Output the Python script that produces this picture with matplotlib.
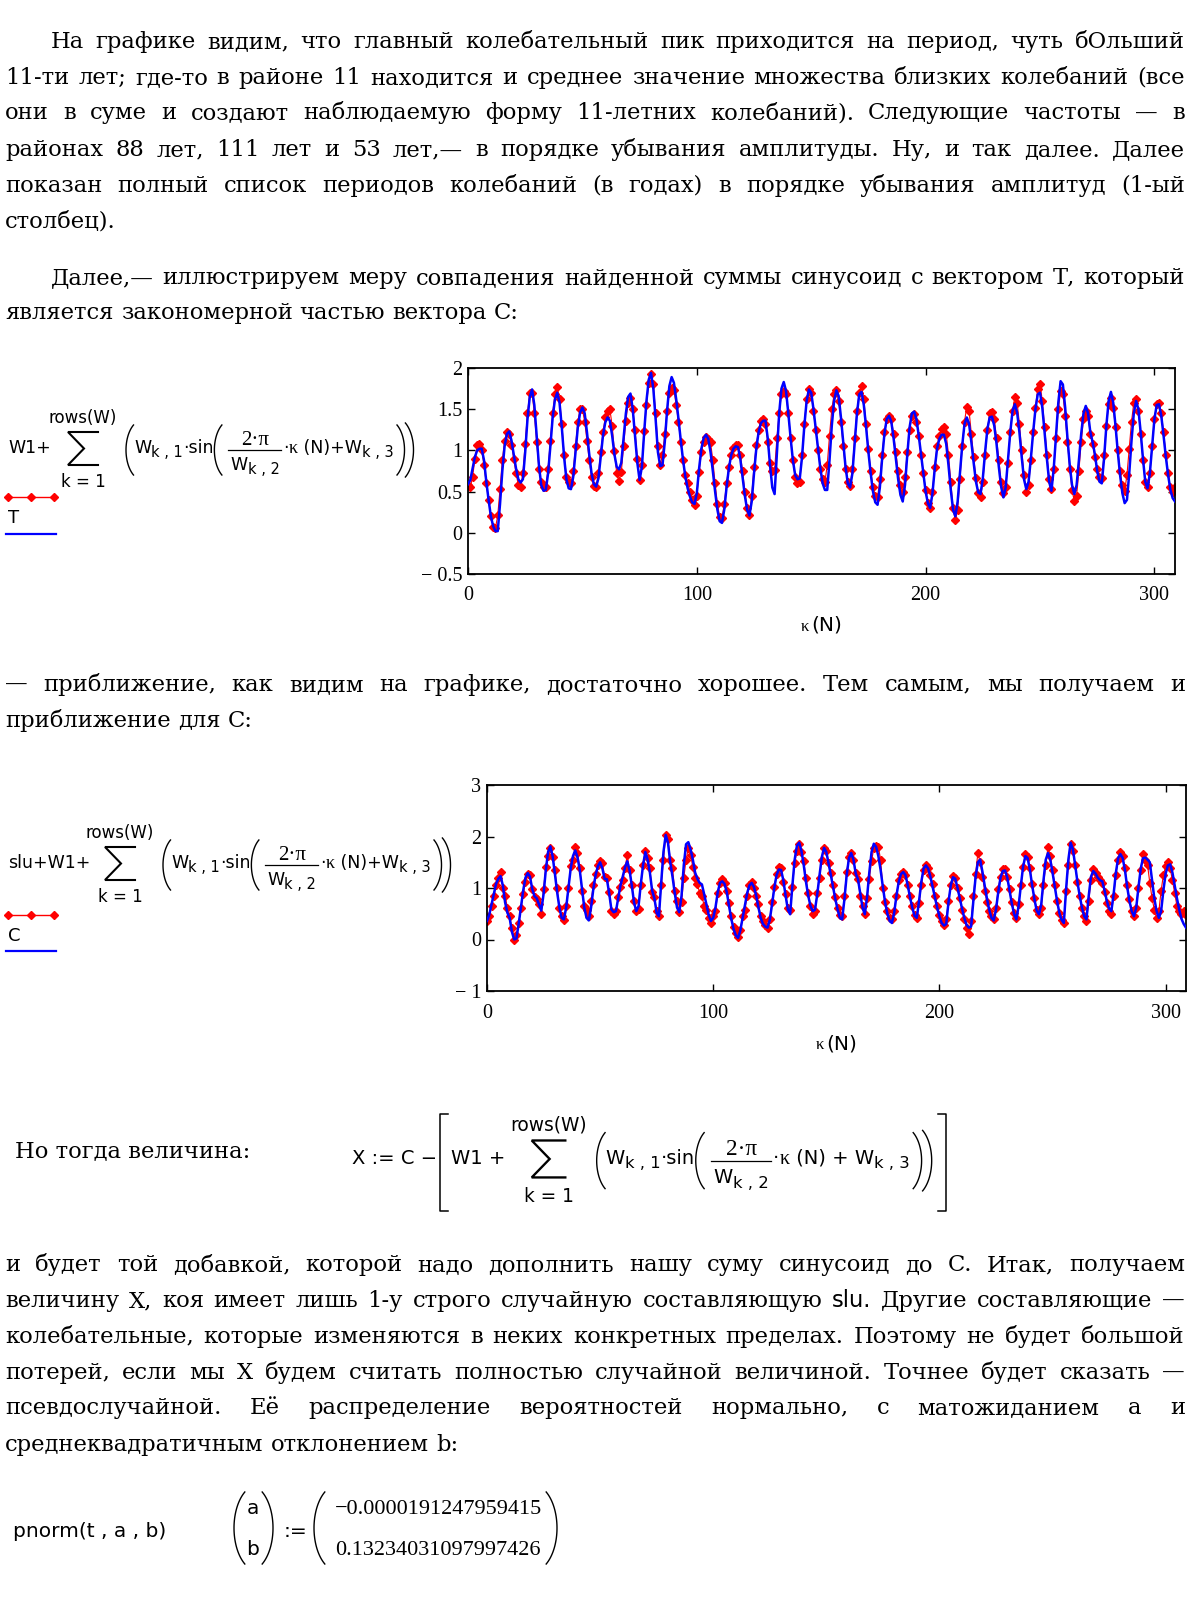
import numpy as np
import matplotlib
matplotlib.use("Agg")
import matplotlib.pyplot as plt
from matplotlib.lines import Line2D

# ── data: chart 1 (T and the sum of sinusoids) ──
T_red = [
    0.58, 0.55, 0.68, 0.89, 1.06, 1.08, 1.00, 0.82, 0.60, 0.40,
    0.20, 0.07, 0.06, 0.21, 0.53, 0.88, 1.12, 1.22, 1.20, 1.07,
    0.90, 0.72, 0.58, 0.56, 0.72, 1.08, 1.45, 1.70, 1.70, 1.45,
    1.10, 0.78, 0.62, 0.56, 0.56, 0.78, 1.12, 1.45, 1.68, 1.77,
    1.62, 1.32, 0.95, 0.68, 0.62, 0.60, 0.75, 1.05, 1.35, 1.50,
    1.50, 1.35, 1.12, 0.88, 0.68, 0.57, 0.56, 0.72, 0.98, 1.22,
    1.40, 1.48, 1.50, 1.30, 0.99, 0.72, 0.63, 0.74, 1.05, 1.36,
    1.58, 1.63, 1.50, 1.25, 0.90, 0.64, 0.82, 1.23, 1.55, 1.82,
    1.93, 1.80, 1.45, 1.05, 0.82, 0.95, 1.20, 1.48, 1.70, 1.76,
    1.73, 1.55, 1.34, 1.10, 0.88, 0.70, 0.60, 0.50, 0.40, 0.34,
    0.45, 0.74, 0.98, 1.10, 1.16, 1.14, 1.10, 0.88, 0.60, 0.35,
    0.19, 0.18, 0.35, 0.60, 0.80, 0.95, 1.03, 1.06, 1.07, 0.95,
    0.75, 0.50, 0.30, 0.22, 0.45, 0.80, 1.06, 1.25, 1.36, 1.38,
    1.32, 1.10, 0.85, 0.75, 0.76, 1.15, 1.45, 1.68, 1.72, 1.68,
    1.45, 1.15, 0.88, 0.68, 0.61, 0.62, 0.95, 1.32, 1.62, 1.74,
    1.70, 1.48, 1.25, 1.00, 0.78, 0.65, 0.62, 0.82, 1.18, 1.50,
    1.68, 1.73, 1.60, 1.35, 1.05, 0.78, 0.62, 0.57, 0.78, 1.15,
    1.48, 1.70, 1.78, 1.62, 1.32, 1.02, 0.75, 0.55, 0.45, 0.43,
    0.65, 0.95, 1.22, 1.38, 1.42, 1.38, 1.20, 0.98, 0.75, 0.58,
    0.50, 0.68, 0.98, 1.25, 1.42, 1.44, 1.35, 1.18, 0.95, 0.72,
    0.52, 0.36, 0.30, 0.50, 0.80, 1.05, 1.18, 1.26, 1.28, 1.20,
    0.95, 0.62, 0.30, 0.15, 0.28, 0.65, 1.05, 1.35, 1.53, 1.48,
    1.20, 0.92, 0.66, 0.48, 0.43, 0.62, 0.95, 1.25, 1.45, 1.47,
    1.38, 1.15, 0.88, 0.62, 0.48, 0.55, 0.85, 1.22, 1.48, 1.65,
    1.58, 1.32, 1.00, 0.70, 0.50, 0.58, 0.88, 1.22, 1.52, 1.75,
    1.81, 1.60, 1.28, 0.95, 0.65, 0.53, 0.78, 1.15, 1.50, 1.72,
    1.68, 1.42, 1.10, 0.78, 0.52, 0.38, 0.45, 0.75, 1.10, 1.38,
    1.48, 1.42, 1.20, 1.08, 0.92, 0.78, 0.68, 0.67, 0.95, 1.30,
    1.56, 1.64, 1.52, 1.28, 1.00, 0.75, 0.58, 0.51, 0.70, 1.02,
    1.35, 1.58, 1.62, 1.48, 1.20, 0.88, 0.62, 0.55, 0.72, 1.05,
    1.38, 1.56, 1.58, 1.45, 1.22, 0.95, 0.72, 0.55, 0.50, 0.55,
]
T_fit = [
    0.59, 0.64, 0.78, 0.92, 1.00, 1.02, 1.02, 0.88, 0.62, 0.40,
    0.20, 0.08, 0.02, 0.02, 0.35, 0.75, 1.05, 1.20, 1.23, 1.12,
    0.95, 0.78, 0.65, 0.61, 0.65, 0.98, 1.38, 1.65, 1.74, 1.55,
    1.18, 0.82, 0.58, 0.51, 0.52, 0.72, 1.05, 1.40, 1.62, 1.70,
    1.58, 1.28, 0.92, 0.65, 0.54, 0.53, 0.68, 0.98, 1.28, 1.46,
    1.52, 1.45, 1.22, 0.95, 0.72, 0.59, 0.56, 0.66, 0.92, 1.18,
    1.34, 1.40, 1.36, 1.18, 0.95, 0.80, 0.77, 0.85, 1.15, 1.45,
    1.65, 1.69, 1.50, 1.18, 0.85, 0.64, 0.80, 1.22, 1.60, 1.86,
    1.94, 1.75, 1.38, 0.98, 0.81, 0.82, 1.10, 1.48, 1.78, 1.89,
    1.82, 1.62, 1.38, 1.12, 0.88, 0.68, 0.54, 0.44, 0.37, 0.35,
    0.48, 0.78, 1.02, 1.15, 1.19, 1.14, 0.98, 0.75, 0.50, 0.28,
    0.14, 0.12, 0.28, 0.55, 0.78, 0.94, 1.02, 1.05, 1.04, 0.90,
    0.68, 0.45, 0.28, 0.21, 0.38, 0.72, 1.02, 1.22, 1.33, 1.36,
    1.36, 1.15, 0.82, 0.55, 0.47, 0.95, 1.45, 1.75, 1.83, 1.72,
    1.45, 1.15, 0.88, 0.70, 0.65, 0.66, 0.92, 1.30, 1.60, 1.74,
    1.70, 1.50, 1.26, 1.02, 0.78, 0.60, 0.52, 0.52, 0.88, 1.30,
    1.60, 1.73, 1.66, 1.40, 1.10, 0.80, 0.60, 0.55, 0.72, 1.08,
    1.45, 1.68, 1.71, 1.55, 1.28, 0.98, 0.72, 0.50, 0.37, 0.34,
    0.55, 0.90, 1.20, 1.38, 1.42, 1.35, 1.15, 0.90, 0.65, 0.46,
    0.38, 0.58, 0.95, 1.28, 1.45, 1.47, 1.38, 1.18, 0.95, 0.72,
    0.50, 0.36, 0.30, 0.48, 0.78, 1.02, 1.14, 1.19, 1.19, 1.08,
    0.82, 0.52, 0.28, 0.20, 0.38, 0.72, 1.06, 1.32, 1.40, 1.32,
    1.10, 0.85, 0.62, 0.49, 0.47, 0.66, 0.98, 1.26, 1.40, 1.41,
    1.30, 1.08, 0.80, 0.56, 0.43, 0.55, 0.88, 1.22, 1.48, 1.56,
    1.46, 1.22, 0.92, 0.65, 0.53, 0.62, 0.90, 1.22, 1.50, 1.68,
    1.70, 1.52, 1.22, 0.90, 0.62, 0.51, 0.78, 1.18, 1.58, 1.84,
    1.80, 1.52, 1.15, 0.82, 0.58, 0.47, 0.58, 0.88, 1.20, 1.45,
    1.54, 1.45, 1.22, 1.10, 0.95, 0.75, 0.62, 0.60, 0.90, 1.30,
    1.60, 1.71, 1.58, 1.30, 0.98, 0.70, 0.48, 0.36, 0.40, 0.72,
    1.12, 1.45, 1.60, 1.50, 1.22, 0.90, 0.62, 0.54, 0.72, 1.05,
    1.38, 1.55, 1.56, 1.42, 1.18, 0.92, 0.70, 0.52, 0.42, 0.38,
]

# ── data: chart 2 (C and slu + sum of sinusoids) ──
C_red = [
    0.36, 0.45, 0.65, 0.85, 1.05, 1.20, 1.31, 1.00, 0.85, 0.62,
    0.45, 0.22, 0.00, 0.08, 0.32, 0.62, 0.88, 1.12, 1.27, 1.25,
    0.98, 0.82, 0.78, 0.68, 0.50, 0.98, 1.40, 1.62, 1.78, 1.60,
    1.35, 1.00, 0.62, 0.45, 0.38, 0.65, 1.00, 1.42, 1.55, 1.80,
    1.68, 1.38, 0.95, 0.65, 0.58, 0.45, 0.75, 1.05, 1.27, 1.45,
    1.53, 1.48, 1.22, 1.20, 0.92, 0.55, 0.50, 0.55, 0.82, 1.02,
    1.15, 1.38, 1.64, 1.35, 1.05, 0.75, 0.55, 0.60, 1.05, 1.45,
    1.72, 1.58, 1.38, 0.92, 0.82, 0.55, 0.45, 1.05, 1.55, 2.02,
    1.95, 1.55, 1.38, 0.95, 0.75, 0.53, 0.72, 1.20, 1.55, 1.77,
    1.65, 1.40, 1.20, 1.08, 0.90, 0.85, 0.65, 0.58, 0.42, 0.33,
    0.45, 0.55, 0.90, 1.10, 1.18, 1.10, 0.95, 0.70, 0.45, 0.25,
    0.12, 0.05, 0.18, 0.45, 0.58, 0.85, 1.05, 1.12, 1.00, 0.85,
    0.68, 0.45, 0.35, 0.28, 0.23, 0.40, 0.72, 1.02, 1.28, 1.40,
    1.38, 1.12, 0.88, 0.62, 0.58, 1.02, 1.48, 1.72, 1.85, 1.70,
    1.52, 1.20, 0.90, 0.65, 0.50, 0.55, 0.90, 1.20, 1.55, 1.78,
    1.72, 1.48, 1.30, 1.05, 0.82, 0.62, 0.47, 0.45, 0.85, 1.32,
    1.60, 1.68, 1.55, 1.30, 1.17, 0.85, 0.65, 0.49, 0.80, 1.18,
    1.52, 1.78, 1.82, 1.80, 1.55, 1.00, 0.72, 0.55, 0.42, 0.40,
    0.55, 0.85, 1.15, 1.28, 1.32, 1.25, 1.05, 0.85, 0.65, 0.48,
    0.42, 0.70, 1.05, 1.35, 1.44, 1.38, 1.25, 1.08, 0.85, 0.65,
    0.48, 0.35, 0.28, 0.40, 0.75, 1.05, 1.23, 1.20, 1.00, 0.80,
    0.58, 0.40, 0.22, 0.10, 0.35, 0.85, 1.28, 1.68, 1.50, 1.22,
    0.95, 0.72, 0.55, 0.45, 0.40, 0.62, 0.98, 1.22, 1.36, 1.36,
    1.22, 0.98, 0.72, 0.52, 0.42, 0.68, 1.05, 1.40, 1.66, 1.60,
    1.38, 1.08, 0.80, 0.58, 0.49, 0.62, 1.05, 1.45, 1.80, 1.62,
    1.35, 1.05, 0.75, 0.52, 0.38, 0.32, 0.95, 1.45, 1.85, 1.72,
    1.45, 1.12, 0.85, 0.62, 0.45, 0.35, 0.75, 1.15, 1.36, 1.30,
    1.22, 1.15, 1.10, 0.92, 0.70, 0.55, 0.50, 0.85, 1.25, 1.55,
    1.70, 1.62, 1.38, 1.05, 0.78, 0.55, 0.45, 0.62, 1.00, 1.35,
    1.66, 1.55, 1.45, 1.10, 0.80, 0.58, 0.42, 0.55, 0.95, 1.25,
    1.42, 1.50, 1.38, 1.15, 0.90, 0.65, 0.55, 0.50, 0.55, 0.48,
]
C_fit = [
    0.36, 0.48, 0.68, 0.88, 1.08, 1.18, 1.23, 1.05, 0.72, 0.52,
    0.42, 0.15, 0.00, 0.02, 0.30, 0.62, 0.95, 1.20, 1.29, 1.22,
    0.98, 0.84, 0.80, 0.68, 0.56, 0.88, 1.35, 1.70, 1.81, 1.62,
    1.28, 0.92, 0.62, 0.42, 0.39, 0.62, 1.00, 1.38, 1.62, 1.73,
    1.60, 1.35, 0.98, 0.62, 0.42, 0.37, 0.62, 0.98, 1.25, 1.42,
    1.50, 1.38, 1.18, 1.17, 0.90, 0.58, 0.53, 0.55, 0.80, 1.05,
    1.22, 1.40, 1.52, 1.35, 1.05, 0.72, 0.55, 0.65, 1.08, 1.45,
    1.70, 1.55, 1.30, 0.95, 0.80, 0.52, 0.45, 1.10, 1.70, 2.03,
    1.88, 1.50, 1.22, 0.90, 0.62, 0.53, 0.85, 1.45, 1.85, 1.89,
    1.75, 1.55, 1.30, 1.18, 1.10, 1.07, 0.88, 0.68, 0.48, 0.36,
    0.42, 0.62, 0.92, 1.10, 1.13, 1.08, 0.92, 0.65, 0.40, 0.20,
    0.08, 0.03, 0.18, 0.42, 0.65, 0.90, 1.05, 1.10, 1.02, 0.85,
    0.62, 0.42, 0.30, 0.25, 0.23, 0.38, 0.68, 1.00, 1.25, 1.36,
    1.35, 1.15, 0.85, 0.58, 0.49, 1.05, 1.55, 1.82, 1.88, 1.72,
    1.45, 1.12, 0.85, 0.65, 0.55, 0.58, 0.88, 1.25, 1.60, 1.78,
    1.70, 1.48, 1.25, 1.02, 0.78, 0.58, 0.42, 0.39, 0.78, 1.25,
    1.58, 1.68, 1.55, 1.28, 1.17, 0.90, 0.62, 0.49, 0.82, 1.30,
    1.70, 1.86, 1.80, 1.62, 1.35, 1.02, 0.72, 0.50, 0.36, 0.32,
    0.52, 0.85, 1.12, 1.27, 1.31, 1.25, 1.05, 0.82, 0.62, 0.46,
    0.42, 0.75, 1.12, 1.38, 1.44, 1.38, 1.22, 1.02, 0.82, 0.62,
    0.45, 0.32, 0.27, 0.30, 0.72, 1.05, 1.21, 1.18, 1.00, 0.80,
    0.60, 0.42, 0.28, 0.23, 0.25, 0.75, 1.22, 1.50, 1.55, 1.32,
    1.05, 0.80, 0.58, 0.42, 0.37, 0.58, 0.92, 1.20, 1.33, 1.34,
    1.20, 0.95, 0.70, 0.50, 0.39, 0.65, 1.05, 1.42, 1.62, 1.58,
    1.35, 1.05, 0.78, 0.56, 0.49, 0.68, 1.15, 1.55, 1.68, 1.55,
    1.30, 1.02, 0.75, 0.52, 0.38, 0.32, 0.98, 1.55, 1.88, 1.75,
    1.45, 1.12, 0.85, 0.62, 0.45, 0.39, 0.85, 1.22, 1.33, 1.28,
    1.20, 1.15, 1.13, 0.95, 0.75, 0.60, 0.55, 0.88, 1.30, 1.58,
    1.66, 1.58, 1.35, 1.02, 0.75, 0.55, 0.45, 0.62, 1.02, 1.38,
    1.58, 1.59, 1.55, 1.50, 1.15, 0.80, 0.55, 0.42, 0.55, 0.95,
    1.28, 1.44, 1.46, 1.30, 1.05, 0.80, 0.58, 0.40, 0.30, 0.23,
]

x_ticks = [0, 100, 200, 300]
y1_ticks = [-0.5, 0, 0.5, 1, 1.5, 2]
y1_labels = ["\u2212 0.5", "0", "0.5", "1", "1.5", "2"]
y2_ticks = [-1, 0, 1, 2, 3]
y2_labels = ["\u2212 1", "0", "1", "2", "3"]

a_val = "\u22120.0000191247959415"
b_val = "0.13234031097997426"

# ── text of the page (line breaks as in the source) ──
LINES = [
    (41.8, "На графике видим, что главный колебательный пик приходится на период, чуть бОльший", 51, True),
    (77.6, "11-ти лет; где-то в районе 11 находится и среднее значение множества близких колебаний (все", 5, True),
    (113.3, "они в суме и создают наблюдаемую форму 11-летних колебаний). Следующие частоты — в", 5, True),
    (150.0, "районах 88 лет, 111 лет и 53 лет,— в порядке убывания амплитуды. Ну, и так далее. Далее", 5, True),
    (185.7, "показан полный список периодов колебаний (в годах) в порядке убывания амплитуд (1-ый", 5, True),
    (221.4, "столбец).", 5, False),
    (277.6, "Далее,— иллюстрируем меру совпадения найденной суммы синусоид с вектором Т, который", 51, True),
    (313.3, "является закономерной частью вектора С:", 5, False),
    (684.7, "— приближение, как видим на графике, достаточно хорошее. Тем самым, мы получаем и", 5, True),
    (720.4, "приближение для С:", 5, False),
    (1265.3, "и будет той добавкой, которой надо дополнить нашу суму синусоид до С. Итак, получаем", 5, True),
    (1301.0, "величину X, коя имеет лишь 1-у строго случайную составляющую slu. Другие составляющие —", 5, True),
    (1336.7, "колебательные, которые изменяются в неких конкретных пределах. Поэтому не будет большой", 5, True),
    (1372.4, "потерей, если мы X будем считать полностью случайной величиной. Точнее будет сказать —", 5, True),
    (1408.2, "псевдослучайной. Её распределение вероятностей нормально, с матожиданием a и", 5, True),
    (1444.9, "среднеквадратичным отклонением b:", 5, False),
]

W, H = 1200, 1600
BODY = "DejaVu Serif"
SANS = "DejaVu Sans"
NUM = "Liberation Serif"

fig = plt.figure(figsize=(12, 16), dpi=100, facecolor="white")
renderer = fig.canvas.get_renderer()


def fx(x):
    return x / W


def fy(y):
    return 1 - y / H


def txt(x, y, s, size, family=SANS, ha="left", va="baseline", **kw):
    return fig.text(fx(x), fy(y), s, fontsize=size, family=family, ha=ha, va=va, **kw)


def measure(s, size, family):
    t = fig.text(0, 0, s, fontsize=size, family=family)
    w = t.get_window_extent(renderer).width
    t.remove()
    return w


def put(x, y, s, size, family=SANS):
    t = txt(x, y, s, size, family)
    return x + t.get_window_extent(renderer).width


def line(xs, ys, **kw):
    kw.setdefault("color", "black")
    kw.setdefault("lw", 1.0)
    fig.add_artist(Line2D([fx(v) for v in xs], [fy(v) for v in ys],
                          transform=fig.transFigure, **kw))


def paren(x, top, bot, side="(", lw=1.0):
    h = bot - top
    th = np.radians(56)
    b = (h / 2) / np.sin(th)
    d = 0.15 * h
    a = d / (1 - np.cos(th))
    cy = (top + bot) / 2
    t = np.linspace(-th, th, 40)
    if side == "(":
        px = x + a - a * np.cos(t)
    else:
        px = x - a + a * np.cos(t)
    line(px, cy + b * np.sin(t), lw=lw)


# ── body text, justified ──
body_size = 20 * 514 / measure("является закономерной частью вектора С:", 20, BODY)


def text_line(yc, s, x0, just, x1=1185):
    words = s.split()
    fams = [SANS if w.startswith("slu") else BODY for w in words]
    size = body_size
    sp = measure("a a", size, BODY) - measure("aa", size, BODY)
    ws = [measure(w, size, f) for w, f in zip(words, fams)]
    if just and len(words) > 1:
        gap = (x1 - x0 - sum(ws)) / (len(words) - 1)
        if gap < 0.7 * sp:
            k = (x1 - x0) / (sum(ws) + 0.7 * sp * (len(words) - 1))
            size *= k
            ws = [measure(w, size, f) for w, f in zip(words, fams)]
            gap = (x1 - x0 - sum(ws)) / (len(words) - 1)
    else:
        gap = sp
    base = yc + 0.27 * size * 100 / 72
    x = x0
    for w, f, wi in zip(words, fams, ws):
        txt(x, base, w, size, f)
        x += wi + gap


for yc, s, x0, just in LINES:
    text_line(yc, s, x0, just)

txt(15, 1151 + 0.27 * body_size * 100 / 72, "Но тогда величина:", body_size, BODY)


# ── formulas ──
def sigma(cx, top, bot, s=1.0):
    w = 15 * s
    line([cx + w, cx - w, cx + 1 * s, cx - w, cx + w],
         [top, top, (top + bot) / 2, bot, bot], lw=1.5 * s, solid_joinstyle="miter")


def sum_block(x, y, s=1.0, plus="+"):
    fs = 12.5 * s
    sub = 10.5 * s
    cx = x + 21 * s
    txt(cx, y - 30 * s, "rows(W)", 12 * s, ha="center")
    sigma(cx, y - 21 * s, y + 12 * s, s)
    txt(cx, y + 34 * s, "k = 1", 12 * s, ha="center")
    xp = x + 64 * s
    paren(xp, y - 28 * s, y + 22 * s, "(")
    cur = xp + 8 * s
    cur = put(cur, y, "W", fs)
    cur = put(cur, y + 4 * s, "k , 1", sub)
    cur = put(cur, y, "·sin", fs)
    paren(cur + 1 * s, y - 28 * s, y + 22 * s, "(")
    cur += 15 * s
    nw = measure("2·π", 15 * s, NUM)
    dw = measure("W", fs, SANS) + measure("k , 2", sub, SANS)
    fw = max(nw, dw) + 4 * s
    txt(cur + fw / 2, y - 8 * s, "2·π", 15 * s, NUM, ha="center")
    line([cur, cur + fw], [y - 3 * s, y - 3 * s], lw=0.9)
    dx = cur + (fw - dw) / 2
    dx = put(dx, y + 17 * s, "W", fs)
    put(dx, y + 21 * s, "k , 2", sub)
    cur += fw + 2 * s
    cur = put(cur, y, "·", fs)
    cur = put(cur, y, "κ", 13 * s, NUM)
    cur = put(cur, y, " (N)" + plus + "W", fs)
    cur = put(cur, y + 4 * s, "k , 3", sub)
    cur += 2 * s
    paren(cur + 9 * s, y - 28 * s, y + 22 * s, ")")
    paren(cur + 18 * s, y - 30 * s, y + 24 * s, ")")
    return cur + 18 * s


# formula for T
txt(8, 453, "W1+", 12.5)
sum_block(62, 453)
line([8, 31, 54], [497, 497, 497], color="red", lw=1.0, marker="D", ms=4,
     mfc="red", mec="red")
txt(8, 523, "T", 13)
line([6, 56], [534, 534], color="blue", lw=1.6)

# formula for C
txt(8, 868, "slu+W1+", 12.5)
sum_block(99, 868)
line([8, 31, 54], [915, 915, 915], color="red", lw=1.0, marker="D", ms=4,
     mfc="red", mec="red")
txt(8, 941, "C", 13)
line([6, 56], [951, 951], color="blue", lw=1.6)

# X := C - [ ... ]
s = 1.12
txt(352, 1164, "X := C \u2212", 14)
line([448, 440, 440, 448], [1114, 1114, 1211, 1211], lw=1.1)
txt(451, 1164, "W1 +", 14)
sum_block(525, 1164, s, plus=" + ")
line([938, 946, 946, 938], [1114, 1114, 1211, 1211], lw=1.1)

# pnorm line
txt(13, 1537, "pnorm(t , a , b)", 14.5)
paren(234, 1492, 1564, "(")
paren(273, 1492, 1564, ")")
txt(253, 1514, "a", 14.5, ha="center")
txt(253, 1555, "b", 14.5, ha="center")
txt(284, 1537, ":=", 14.5)
paren(314, 1492, 1564, "(")
paren(557, 1492, 1564, ")")
txt(438, 1514, a_val, 16, NUM, ha="center")
txt(438, 1555, b_val, 16, NUM, ha="center")


# ── charts ──
def chart(rect, red, fit, ylim, yt, ylab, label_xy):
    ax = fig.add_axes(rect)
    n = np.arange(len(red))
    ax.plot(n, red, color="red", lw=0.8, marker="D", ms=3.6, mfc="red", mec="red", zorder=2)
    ax.plot(np.arange(len(fit)), fit, color="blue", lw=1.8, zorder=3)
    ax.set_xlim(0, 309)
    ax.set_ylim(*ylim)
    ax.set_xticks(x_ticks)
    ax.set_xticklabels([str(v) for v in x_ticks])
    ax.set_yticks(yt)
    ax.set_yticklabels(ylab)
    ax.tick_params(direction="in", top=True, right=True, length=5, width=1.0,
                   labelsize=14.5, colors="black")
    ax.tick_params(axis="x", pad=9)
    ax.tick_params(axis="y", pad=4)
    for lab in ax.get_xticklabels() + ax.get_yticklabels():
        lab.set_family(NUM)
    for sp in ax.spines.values():
        sp.set_linewidth(1.3)
    lx, ly = label_xy
    k_end = put(lx, ly, "κ", 12, NUM)
    put(k_end + 2, ly, "(N)", 14.5)
    return ax


chart([fx(468), fy(574), (1175 - 468) / W, (574 - 368) / H], T_red, T_fit,
      (-0.5, 2), y1_ticks, y1_labels, (801, 631))
chart([fx(487), fy(991), (1186 - 487) / W, (991 - 785) / H], C_red, C_fit,
      (-1, 3), y2_ticks, y2_labels, (816, 1049))

fig.savefig("out.png", dpi=100, facecolor="white")
